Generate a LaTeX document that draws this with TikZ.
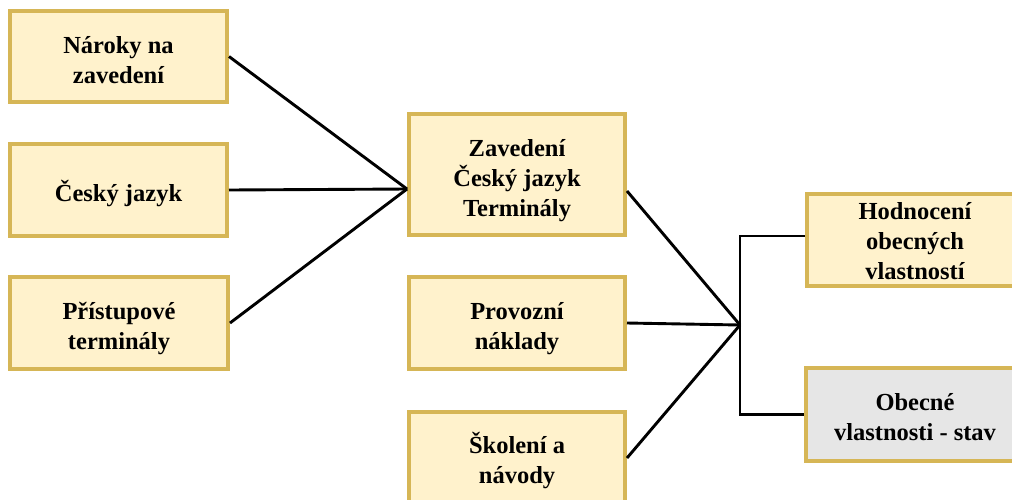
\documentclass[tikz,border=0pt]{standalone}
\usepackage{fontspec}
\setmainfont{Liberation Serif}
\definecolor{boxfill}{HTML}{FFF2CC}
\definecolor{boxline}{HTML}{D6B656}
\definecolor{grayfill}{HTML}{E6E6E6}
\newcommand\tstrut[1][29]{\rule{0pt}{#1pt}}
\begin{document}
\begin{tikzpicture}[x=1pt,y=-1pt,
  box/.style={draw=boxline, fill=boxfill, line width=4pt, rectangle,
    minimum width=216pt, minimum height=92pt, align=center, inner sep=0pt,
    font=\bfseries\fontsize{24.5}{30}\selectfont},
  graybox/.style={box, fill=grayfill},
  conn/.style={draw=black, line width=2.9pt}]
\clip (0,0) rectangle (1012,499);
\fill[white] (0,0) rectangle (1012,499);
% left column
\node[box, minimum width=217pt, minimum height=91pt] (l1) at (118.5,56.5) {\tstrut[25]Nároky na\\zavedení};
\node[box, minimum width=217pt] (l2) at (118.5,190) {\tstrut Český jazyk};
\node[box, minimum width=218pt] (l3) at (119,323) {\tstrut Přístupové\\terminály};
% middle column
\node[box, minimum height=121pt] (m1) at (517,174.5) {\tstrut Zavedení\\Český jazyk\\Terminály};
\node[box] (m2) at (517,323) {\tstrut Provozní\\náklady};
\node[box] (m3) at (517,458) {\tstrut[27]Školení a\\návody};
% right column
\node[box] (r1) at (915,240) {\tstrut[19]Hodnocení\\obecných\\vlastností};
\node[graybox, minimum width=218pt, minimum height=93pt] (r2) at (915,414.5) {\tstrut[23]Obecné\\vlastnosti - stav};
% junction points
\coordinate (j1) at (407,189);
\coordinate (m1r) at (627,191);
\coordinate (j2) at (740,325);
\coordinate (b1) at (740,236);
\coordinate (b2) at (740,414.5);
\coordinate (r1w) at (805,236);
% connectors
\draw[conn] (l1.east) -- (j1);
\draw[conn] (l2.east) -- (j1);
\draw[conn] (l3.east) -- (j1);
\draw[conn] (m1r) -- (j2);
\draw[conn] (m2.east) -- (j2);
\draw[conn] (m3.east) -- (j2);
\draw[conn] (r1w) -- (b1) -- (b2) -- (r2.west);
\end{tikzpicture}
\end{document}
